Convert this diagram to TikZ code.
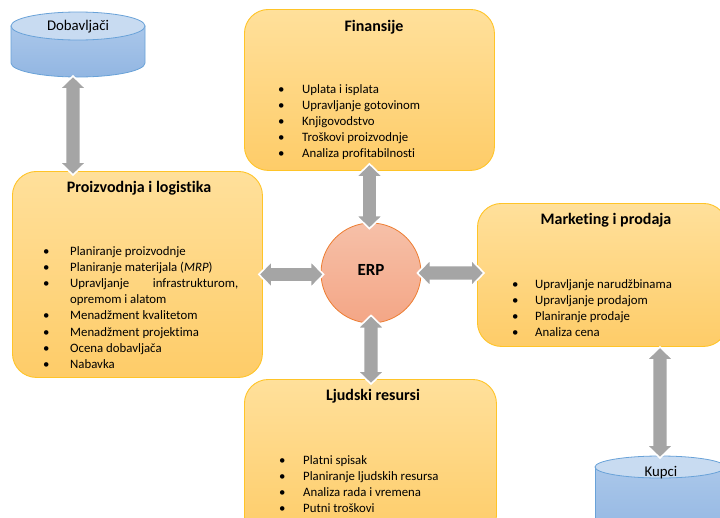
\documentclass[tikz,border=0pt]{standalone}
\usepackage{fontspec}
\setmainfont{Carlito}[Ligatures={NoCommon}]
\usetikzlibrary{calc}
\definecolor{boxTop}{RGB}{255,224,155}
\definecolor{boxBot}{RGB}{254,204,104}
\definecolor{boxLine}{RGB}{255,196,40}
\definecolor{erpTop}{RGB}{246,192,168}
\definecolor{erpBot}{RGB}{244,166,134}
\definecolor{erpLine}{RGB}{237,125,49}
\definecolor{cylTop}{RGB}{200,219,241}
\definecolor{cylBodyTop}{RGB}{170,199,234}
\definecolor{cylBodyBot}{RGB}{146,182,226}
\definecolor{cylLine}{RGB}{105,162,216}
\definecolor{arrowGray}{RGB}{165,165,165}
\tikzset{
  module/.style={draw=boxLine, line width=0.9pt, rounded corners=24pt,
    top color=boxTop, bottom color=boxBot, inner sep=0pt, anchor=north west},
  title/.style={anchor=base, font=\fontsize{16}{19}\selectfont\bfseries, inner sep=0pt},
  items/.style={anchor=base west, font=\fontsize{12.8}{16.2}\selectfont, inner sep=0pt},
  cyltext/.style={anchor=base, font=\fontsize{14.8}{17}\selectfont, inner sep=0pt},
  cylbody/.style={draw=cylLine, line width=0.8pt, top color=cylBodyTop, bottom color=cylBodyBot},
  cyltop/.style={draw=cylLine, line width=0.8pt, fill=cylTop},
  blockarrow/.style={fill=arrowGray, draw=white, line width=1.6pt, line join=miter},
}
\newcommand\vblock[2]{%
  \path[blockarrow] let \p1=(#1), \p2=(#2) in
    (\x1,\y1) -- (\x1+13.5pt,\y1-13pt) -- (\x1+7.5pt,\y1-13pt) -- (\x1+7.5pt,\y2+13pt)
    -- (\x1+13.5pt,\y2+13pt) -- (\x1,\y2) -- (\x1-13.5pt,\y2+13pt) -- (\x1-7.5pt,\y2+13pt)
    -- (\x1-7.5pt,\y1-13pt) -- (\x1-13.5pt,\y1-13pt) -- cycle;}
\newcommand\hblock[2]{%
  \path[blockarrow] let \p1=(#1), \p2=(#2) in
    (\x1,\y1) -- (\x1+13pt,\y1+13.5pt) -- (\x1+13pt,\y1+7.5pt) -- (\x2-13pt,\y1+7.5pt)
    -- (\x2-13pt,\y1+13.5pt) -- (\x2,\y1) -- (\x2-13pt,\y1-13.5pt) -- (\x2-13pt,\y1-7.5pt)
    -- (\x1+13pt,\y1-7.5pt) -- (\x1+13pt,\y1-13.5pt) -- cycle;}
\begin{document}
\begin{tikzpicture}[x=1pt,y=-1pt]
\useasboundingbox (0,0) rectangle (720,517);
\clip (0,0) rectangle (720,517);

% Dobavljaci cylinder
\path[cylbody] (11,26) -- (11,63) arc[start angle=180, end angle=360, x radius=67pt, y radius=14pt] -- (145,26) -- cycle;
\path[cyltop] (78,26) ellipse[x radius=67pt, y radius=14pt];
\node[cyltext] (dob) at (78,30.5) {Dobavljači};
\coordinate (dobbot) at (73,76);

% Kupci cylinder
\path[cylbody] (595,467) -- (595,540) -- (725,540) -- (725,467) -- cycle;
\path[cyltop] (660,467) ellipse[x radius=65pt, y radius=11pt];
\node[cyltext] (kup) at (661,476.5) {Kupci};
\coordinate (kuptop) at (660,458);

% modules
\node[module, minimum width=250pt, minimum height=161pt] (fin) at (244,9) {};
\node[module, minimum width=250pt, minimum height=206pt] (pro) at (12,171) {};
\node[module, minimum width=250pt, minimum height=143pt] (mkt) at (477,203) {};
\node[module, minimum width=252pt, minimum height=160pt] (lj) at (244,379) {};

% ERP
\node[circle, minimum size=100pt, inner sep=0pt, draw=erpLine, line width=0.8pt,
      top color=erpTop, bottom color=erpBot] (erp) at (371,273) {};
\node[anchor=base, font=\fontsize{17}{20}\selectfont\bfseries, inner sep=0pt] (erpt) at (371,275) {ERP};

% titles
\node[title] (fint) at (374,31) {Finansije};
\node[title] (prot) at (139,192.5) {Proizvodnja i logistika};
\node[title] (mktt) at (606,224.5) {Marketing i prodaja};
\node[title] (ljt) at (373,400.5) {Ljudski resursi};

% lists
\node[items] (finl) at (278,93) {\begin{tabular}[t]{@{}l@{}l@{}}
\makebox[24pt][l]{\textbullet} & Uplata i isplata\\
\makebox[24pt][l]{\textbullet} & Upravljanje gotovinom\\
\makebox[24pt][l]{\textbullet} & Knjigovodstvo\\
\makebox[24pt][l]{\textbullet} & Troškovi proizvodnje\\
\makebox[24pt][l]{\textbullet} & Analiza profitabilnosti
\end{tabular}};
\node[items] (prol) at (43,255) {\begin{tabular}[t]{@{}l@{}l@{}}
\makebox[27pt][l]{\textbullet} & Planiranje proizvodnje\\
\makebox[27pt][l]{\textbullet} & Planiranje materijala (\textit{MRP})\\
\makebox[27pt][l]{\textbullet} & \makebox[168pt][s]{Upravljanje infrastrukturom,}\\
 & opremom i alatom\\
\makebox[27pt][l]{\textbullet} & Menadžment kvalitetom\\
\makebox[27pt][l]{\textbullet} & Menadžment projektima\\
\makebox[27pt][l]{\textbullet} & Ocena dobavljača\\
\makebox[27pt][l]{\textbullet} & Nabavka
\end{tabular}};
\node[items] (mktl) at (512,288) {\begin{tabular}[t]{@{}l@{}l@{}}
\makebox[23pt][l]{\textbullet} & Upravljanje narudžbinama\\
\makebox[23pt][l]{\textbullet} & Upravljanje prodajom\\
\makebox[23pt][l]{\textbullet} & Planiranje prodaje\\
\makebox[23pt][l]{\textbullet} & Analiza cena
\end{tabular}};
\node[items] (ljl) at (279,464) {\begin{tabular}[t]{@{}l@{}l@{}}
\makebox[24pt][l]{\textbullet} & Platni spisak\\
\makebox[24pt][l]{\textbullet} & Planiranje ljudskih resursa\\
\makebox[24pt][l]{\textbullet} & Analiza rada i vremena\\
\makebox[24pt][l]{\textbullet} & Putni troškovi
\end{tabular}};

% block arrows
\vblock{dobbot}{[yshift=-4pt]pro.north}
\vblock{[yshift=7pt]fin.south}{[yshift=-6pt]erp.north}
\hblock{[xshift=-4pt]pro.east}{[xshift=3pt]erp.west}
\hblock{[xshift=-4pt]erp.east}{[xshift=7pt]mkt.west}
\vblock{[yshift=8pt]erp.south}{[yshift=-5pt]lj.north}
\vblock{mkt.south -| kuptop}{kuptop}
\end{tikzpicture}
\end{document}
